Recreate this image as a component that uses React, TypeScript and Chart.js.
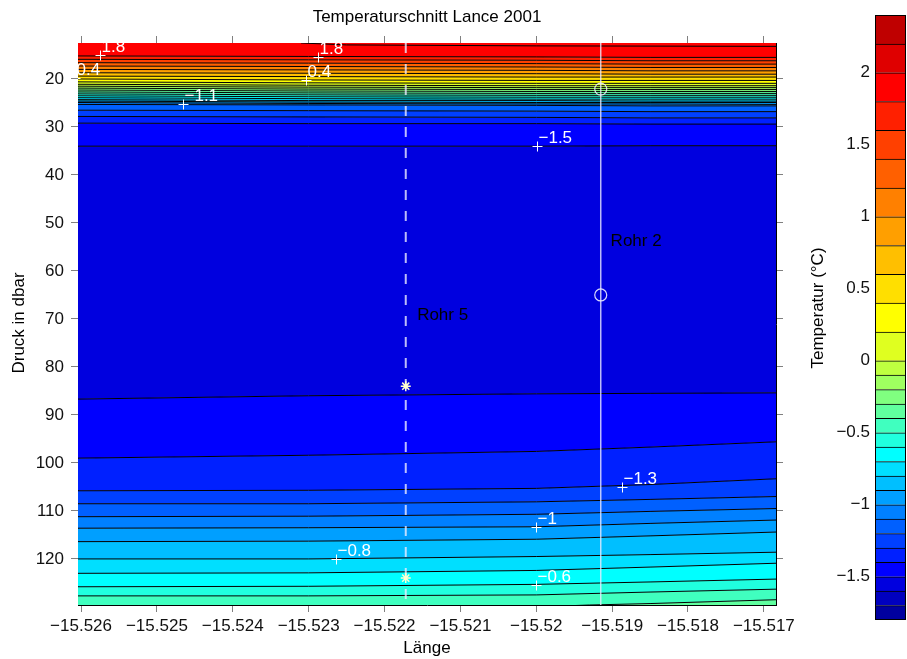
import React, { useEffect, useRef } from "react";
import { Chart, registerables } from "chart.js";

Chart.register(...registerables);

// ---------------- data ----------------
const xMin = -15.52604;
const xMax = -15.51684;
const yMin = 12.5;
const yMax = 129.6;

const xTicks = [-15.526, -15.525, -15.524, -15.523, -15.522, -15.521, -15.52, -15.519, -15.518, -15.517];
const yTicks = [20, 30, 40, 50, 60, 70, 80, 90, 100, 110, 120];

// x positions (Länge) where every contour line is sampled
const xNodes = [-15.52604, -15.523, -15.52, -15.5185, -15.51684];

// contour levels (°C), top to bottom
const contourLevels = [
  1.8, 1.6, 1.4, 1.2, 1.0, 0.8, 0.6, 0.4, 0.2, 0.0,
  -0.1, -0.2, -0.3, -0.4, -0.5, -0.6, -0.7, -0.8, -0.9, -1.0,
  -1.1, -1.2, -1.3, -1.4, -1.5,
  -1.5, -1.4, -1.3, -1.2, -1.1, -1.0, -0.9, -0.8, -0.7, -0.6, -0.5,
];
// pressure (dbar) of each contour line at xNodes
const contourDepths = [
  [15.2, 15.3, 15.4, 15.5, 15.5],
  [15.9, 16.0, 16.1, 16.2, 16.2],
  [16.6, 16.7, 16.8, 16.9, 16.9],
  [17.3, 17.4, 17.5, 17.6, 17.6],
  [18.0, 18.1, 18.2, 18.3, 18.3],
  [18.7, 18.8, 18.9, 19.0, 19.0],
  [19.4, 19.5, 19.6, 19.6, 19.6],
  [20.0, 20.2, 20.3, 20.3, 20.3],
  [20.6, 20.8, 20.9, 20.9, 20.9],
  [21.1, 21.3, 21.4, 21.4, 21.4],
  [21.5, 21.7, 21.8, 21.8, 21.8],
  [21.9, 22.1, 22.2, 22.2, 22.2],
  [22.3, 22.5, 22.6, 22.6, 22.6],
  [22.7, 22.9, 23.0, 23.0, 23.0],
  [23.1, 23.3, 23.4, 23.4, 23.4],
  [23.5, 23.7, 23.8, 23.8, 23.8],
  [23.9, 24.1, 24.2, 24.2, 24.2],
  [24.3, 24.5, 24.5, 24.6, 24.6],
  [24.6, 24.8, 24.9, 24.9, 24.9],
  [24.9, 25.1, 25.2, 25.2, 25.3],
  [25.3, 25.4, 25.5, 25.6, 25.6],
  [26.5, 26.6, 26.7, 26.8, 26.8],
  [27.8, 27.9, 28.0, 28.1, 28.1],
  [29.2, 29.3, 29.3, 29.4, 29.4],
  [34.0, 34.0, 34.0, 33.9, 33.9],
  [86.7, 86.0, 85.6, 85.5, 85.4],
  [99.0, 98.4, 97.6, 96.7, 95.6],
  [105.8, 105.7, 105.3, 104.5, 103.3],
  [108.5, 108.5, 108.1, 107.6, 107.0],
  [111.2, 111.1, 110.7, 110.1, 109.5],
  [113.6, 113.5, 113.3, 112.6, 111.9],
  [116.4, 116.3, 115.9, 115.2, 114.4],
  [120.0, 120.0, 119.5, 119.1, 118.6],
  [123.0, 122.9, 122.4, 121.7, 120.9],
  [125.8, 125.7, 125.3, 124.8, 124.2],
  [127.7, 127.7, 127.5, 126.9, 126.3],
];
// the -0.4 line only enters the section on the east side
const lineM04X = [-15.52604, -15.52, -15.5193, -15.5185, -15.51684];
const lineM04Y = [131.0, 130.0, 129.6, 129.3, 128.5];
// thin contour right at the surface
const topLineX = [-15.5231, -15.5225, -15.52, -15.51684];
const topLineY = [12.5, 12.9, 13.1, 13.2];

// lower bound of the temperature band filling each region (top edge → bottom edge)
const regionBands = [
  1.8, 1.6, 1.4, 1.2, 1.0, 0.8, 0.6, 0.4, 0.2, 0.0,
  -0.1, -0.2, -0.3, -0.4, -0.5, -0.6, -0.7, -0.8, -0.9, -1.0,
  -1.1, -1.2, -1.3, -1.4, -1.5, -1.6,
  -1.5, -1.4, -1.3, -1.2, -1.1, -1.0, -0.9, -0.8, -0.7, -0.6, -0.5, -0.4,
];

// colour bar
const colorbarEdges = [
  -1.8, -1.7, -1.6, -1.5, -1.4, -1.3, -1.2, -1.1, -1.0, -0.9, -0.8, -0.7, -0.6, -0.5, -0.4, -0.3, -0.2, -0.1,
  0.0, 0.2, 0.4, 0.6, 0.8, 1.0, 1.2, 1.4, 1.6, 1.8, 2.0, 2.2, 2.4,
];
const jetColors = [
  "#00009F", "#0000BF", "#0000DF", "#0000FF", "#0020FF", "#0040FF", "#0060FF", "#0080FF",
  "#009FFF", "#00BFFF", "#00DFFF", "#00FFFF", "#20FFDF", "#40FFBF", "#60FF9F", "#80FF80",
  "#9FFF60", "#BFFF40", "#DFFF20", "#FFFF00", "#FFDF00", "#FFBF00", "#FF9F00", "#FF8000",
  "#FF6000", "#FF4000", "#FF2000", "#FF0000", "#DF0000", "#BF0000",
];
const colorbarTicks = [-1.5, -1, -0.5, 0, 0.5, 1, 1.5, 2];

// contour labels
const labelX = [-15.52575, -15.52288, -15.52608, -15.52303, -15.52466, -15.51999, -15.51887, -15.52, -15.52264, -15.52];
const labelY = [15.1, 15.4, 19.7, 20.2, 25.3, 34.0, 105.0, 113.3, 120.0, 125.4];
const labelText = ["1.8", "1.8", "0.4", "0.4", "\u22121.1", "\u22121.5", "\u22121.3", "\u22121", "\u22120.8", "\u22120.6"];

// Rohr (tube) stations
const rohr5X = -15.52172;
const rohr5Marks = [84.0, 124.0];
const rohr2X = -15.51915;
const rohr2Marks = [22.1, 65.0];
const rohrNames = ["Rohr 5", "Rohr 2"];
const rohrLabelX = [-15.52157, -15.51902];
const rohrLabelY = [69.2, 53.75];

const FONT = '"Liberation Sans", Arial, Helvetica, sans-serif';

function fmt(v: number): string {
  return String(parseFloat(v.toFixed(4))).replace("-", "\u2212");
}
function bandColor(lower: number): string {
  const i = colorbarEdges.findIndex((e) => Math.abs(e - lower) < 1e-6);
  return jetColors[i];
}

export default function App() {
  const mainRef = useRef<HTMLCanvasElement>(null);
  const cbRef = useRef<HTMLCanvasElement>(null);

  useEffect(() => {
    const boundaries: { x: number; y: number }[][] = [];
    boundaries.push(xNodes.map((x) => ({ x, y: yMin })));
    contourDepths.forEach((row) => boundaries.push(row.map((y, i) => ({ x: xNodes[i], y }))));
    boundaries.push(lineM04X.map((x, i) => ({ x, y: lineM04Y[i] })));
    boundaries.push(xNodes.map((x) => ({ x, y: yMax })));
    const lastIdx = boundaries.length - 1;

    const datasets: any[] = boundaries.map((pts, i) => ({
      data: pts,
      fill: i === 0 ? false : "-1",
      backgroundColor: i === 0 ? "transparent" : bandColor(regionBands[i - 1]),
      borderColor: i === 0 || i === lastIdx ? "transparent" : "#000",
      borderWidth: i === 0 || i === lastIdx ? 0 : 1,
      pointRadius: 0,
      tension: 0,
    }));
    datasets.push({
      data: topLineX.map((x, i) => ({ x, y: topLineY[i] })),
      fill: false,
      borderColor: "#000",
      borderWidth: 1,
      pointRadius: 0,
    });
    datasets.push({
      data: [{ x: rohr5X, y: yMin }, { x: rohr5X, y: yMax }],
      fill: false,
      borderColor: "rgba(235,235,255,0.8)",
      borderWidth: 2,
      borderDash: [10, 11],
      pointRadius: 0,
      order: -1,
    });
    datasets.push({
      data: [{ x: rohr2X, y: yMin }, { x: rohr2X, y: yMax }],
      fill: false,
      borderColor: "rgba(235,235,255,0.8)",
      borderWidth: 1.5,
      pointRadius: 0,
      order: -1,
    });
    datasets.push({
      data: rohr5Marks.map((y) => ({ x: rohr5X, y })),
      showLine: false,
      fill: false,
      pointStyle: "star",
      pointRadius: 5,
      pointBorderColor: "#FFFFD0",
      pointBorderWidth: 1.5,
      pointBackgroundColor: "#FFFFD0",
      order: -2,
    });
    datasets.push({
      data: rohr2Marks.map((y) => ({ x: rohr2X, y })),
      showLine: false,
      fill: false,
      pointStyle: "circle",
      pointRadius: 6,
      pointBorderColor: "rgba(240,240,255,0.9)",
      pointBorderWidth: 1.2,
      pointBackgroundColor: "transparent",
      order: -2,
    });

    const tickGrid = { drawOnChartArea: false, drawTicks: true, tickLength: 7, color: "#808080", lineWidth: 1 };
    const border = { display: true, color: "#000", width: 1 };
    const tickFont = { family: FONT, size: 17 };

    const labelsPlugin = {
      id: "contourLabels",
      afterDatasetsDraw(chart: any) {
        const { ctx, chartArea, scales } = chart;
        const sx = scales.x;
        const sy = scales.y;
        ctx.save();
        ctx.beginPath();
        ctx.rect(chartArea.left, chartArea.top, chartArea.right - chartArea.left, chartArea.bottom - chartArea.top);
        ctx.clip();
        ctx.strokeStyle = "#fff";
        ctx.fillStyle = "#fff";
        ctx.lineWidth = 1;
        ctx.font = `17px ${FONT}`;
        ctx.textAlign = "left";
        ctx.textBaseline = "alphabetic";
        labelX.forEach((lx, i) => {
          const px = Math.round(sx.getPixelForValue(lx)) + 0.5;
          const py = Math.round(sy.getPixelForValue(labelY[i])) + 0.5;
          ctx.beginPath();
          ctx.moveTo(px - 5, py);
          ctx.lineTo(px + 5, py);
          ctx.moveTo(px, py - 5);
          ctx.lineTo(px, py + 5);
          ctx.stroke();
          ctx.fillText(labelText[i], px + 1, py - 3.5);
        });
        ctx.fillStyle = "#000";
        ctx.textBaseline = "middle";
        rohrNames.forEach((t, i) => {
          ctx.fillText(t, sx.getPixelForValue(rohrLabelX[i]), sy.getPixelForValue(rohrLabelY[i]));
        });
        ctx.restore();
      },
      afterDraw(chart: any) {
        const { ctx } = chart;
        ctx.save();
        ctx.fillStyle = "#000";
        ctx.font = `17px ${FONT}`;
        ctx.textAlign = "center";
        ctx.textBaseline = "middle";
        ctx.fillText("Temperaturschnitt Lance 2001", 427, 17);
        ctx.fillText("L\u00e4nge", 427, 648);
        ctx.translate(19, 323);
        ctx.rotate(-Math.PI / 2);
        ctx.fillText("Druck in dbar", 0, 0);
        ctx.restore();
      },
    };

    const main = new Chart(mainRef.current!, {
      type: "line",
      data: { datasets },
      options: {
        animation: false,
        responsive: false,
        devicePixelRatio: 1,
        events: [],
        layout: { padding: { top: 36, left: 8, right: 124, bottom: 0 } },
        plugins: {
          legend: { display: false },
          tooltip: { enabled: false },
          filler: { drawTime: "beforeDatasetsDraw" },
        } as any,
        scales: {
          x: {
            type: "linear",
            position: "bottom",
            min: xMin,
            max: xMax,
            afterBuildTicks: (a: any) => {
              a.ticks = xTicks.map((value) => ({ value }));
            },
            afterFit: (s: any) => {
              s.height = 54;
            },
            ticks: { callback: (v: any) => fmt(Number(v)), font: tickFont, color: "#111", padding: 4, maxRotation: 0, autoSkip: false },
            grid: tickGrid,
            border,
          },
          x2: {
            type: "linear",
            position: "top",
            min: xMin,
            max: xMax,
            afterBuildTicks: (a: any) => {
              a.ticks = xTicks.map((value) => ({ value }));
            },
            afterFit: (s: any) => {
              s.height = 7;
            },
            ticks: { display: false },
            grid: tickGrid,
            border,
          },
          y: {
            type: "linear",
            position: "left",
            reverse: true,
            min: yMin,
            max: yMax,
            afterBuildTicks: (a: any) => {
              a.ticks = yTicks.map((value) => ({ value }));
            },
            afterFit: (s: any) => {
              s.width = 70;
            },
            ticks: { callback: (v: any) => fmt(Number(v)), font: tickFont, color: "#111", padding: 7, autoSkip: false },
            grid: tickGrid,
            border,
          },
          y2: {
            type: "linear",
            position: "right",
            reverse: true,
            min: yMin,
            max: yMax,
            afterBuildTicks: (a: any) => {
              a.ticks = yTicks.map((value) => ({ value }));
            },
            afterFit: (s: any) => {
              s.width = 7;
            },
            ticks: { display: false },
            grid: tickGrid,
            border,
          },
        },
      } as any,
      plugins: [labelsPlugin],
    });

    const cbPlugin = {
      id: "cbDecor",
      afterDatasetsDraw(chart: any) {
        const { ctx, chartArea } = chart;
        ctx.save();
        ctx.strokeStyle = "#000";
        ctx.lineWidth = 1;
        ctx.strokeRect(
          Math.round(chartArea.left) + 0.5,
          Math.round(chartArea.top) + 0.5,
          Math.round(chartArea.right - chartArea.left) - 1,
          Math.round(chartArea.bottom - chartArea.top) - 1
        );
        ctx.restore();
      },
      afterDraw(chart: any) {
        const { ctx } = chart;
        ctx.save();
        ctx.fillStyle = "#000";
        ctx.font = `17px ${FONT}`;
        ctx.textAlign = "center";
        ctx.textBaseline = "middle";
        ctx.translate(18, 308);
        ctx.rotate(-Math.PI / 2);
        ctx.fillText("Temperatur (\u00b0C)", 0, 0);
        ctx.restore();
      },
    };

    const cb = new Chart(cbRef.current!, {
      type: "bar",
      data: {
        labels: [""],
        datasets: jetColors.map((c, i) => ({
          data: [[colorbarEdges[i], colorbarEdges[i + 1]]],
          backgroundColor: c,
          borderColor: "#000",
          borderWidth: { top: 1, bottom: 0, left: 0, right: 0 },
          borderSkipped: false,
          grouped: false,
          barPercentage: 1,
          categoryPercentage: 1,
        })),
      } as any,
      options: {
        animation: false,
        responsive: false,
        devicePixelRatio: 1,
        events: [],
        layout: { padding: { top: 14, bottom: 39, left: 0, right: 1 } },
        plugins: { legend: { display: false }, tooltip: { enabled: false } },
        scales: {
          x: { display: false },
          y: {
            min: -1.8,
            max: 2.4,
            afterBuildTicks: (a: any) => {
              a.ticks = colorbarTicks.map((value) => ({ value }));
            },
            afterFit: (s: any) => {
              s.width = 75;
            },
            ticks: { callback: (v: any) => fmt(Number(v)), font: tickFont, color: "#111", padding: 5, autoSkip: false },
            grid: { display: false, drawTicks: false },
            border: { display: false },
          },
        },
      } as any,
      plugins: [cbPlugin],
    });

    return () => {
      main.destroy();
      cb.destroy();
    };
  }, []);

  return (
    <div style={{ position: "fixed", left: 0, top: 0, width: 907, height: 659, background: "#fff" }}>
      <canvas ref={mainRef} width={907} height={659} style={{ position: "absolute", left: 0, top: 0, width: 907, height: 659 }} />
      <canvas ref={cbRef} width={107} height={659} style={{ position: "absolute", left: 800, top: 0, width: 107, height: 659 }} />
    </div>
  );
}
